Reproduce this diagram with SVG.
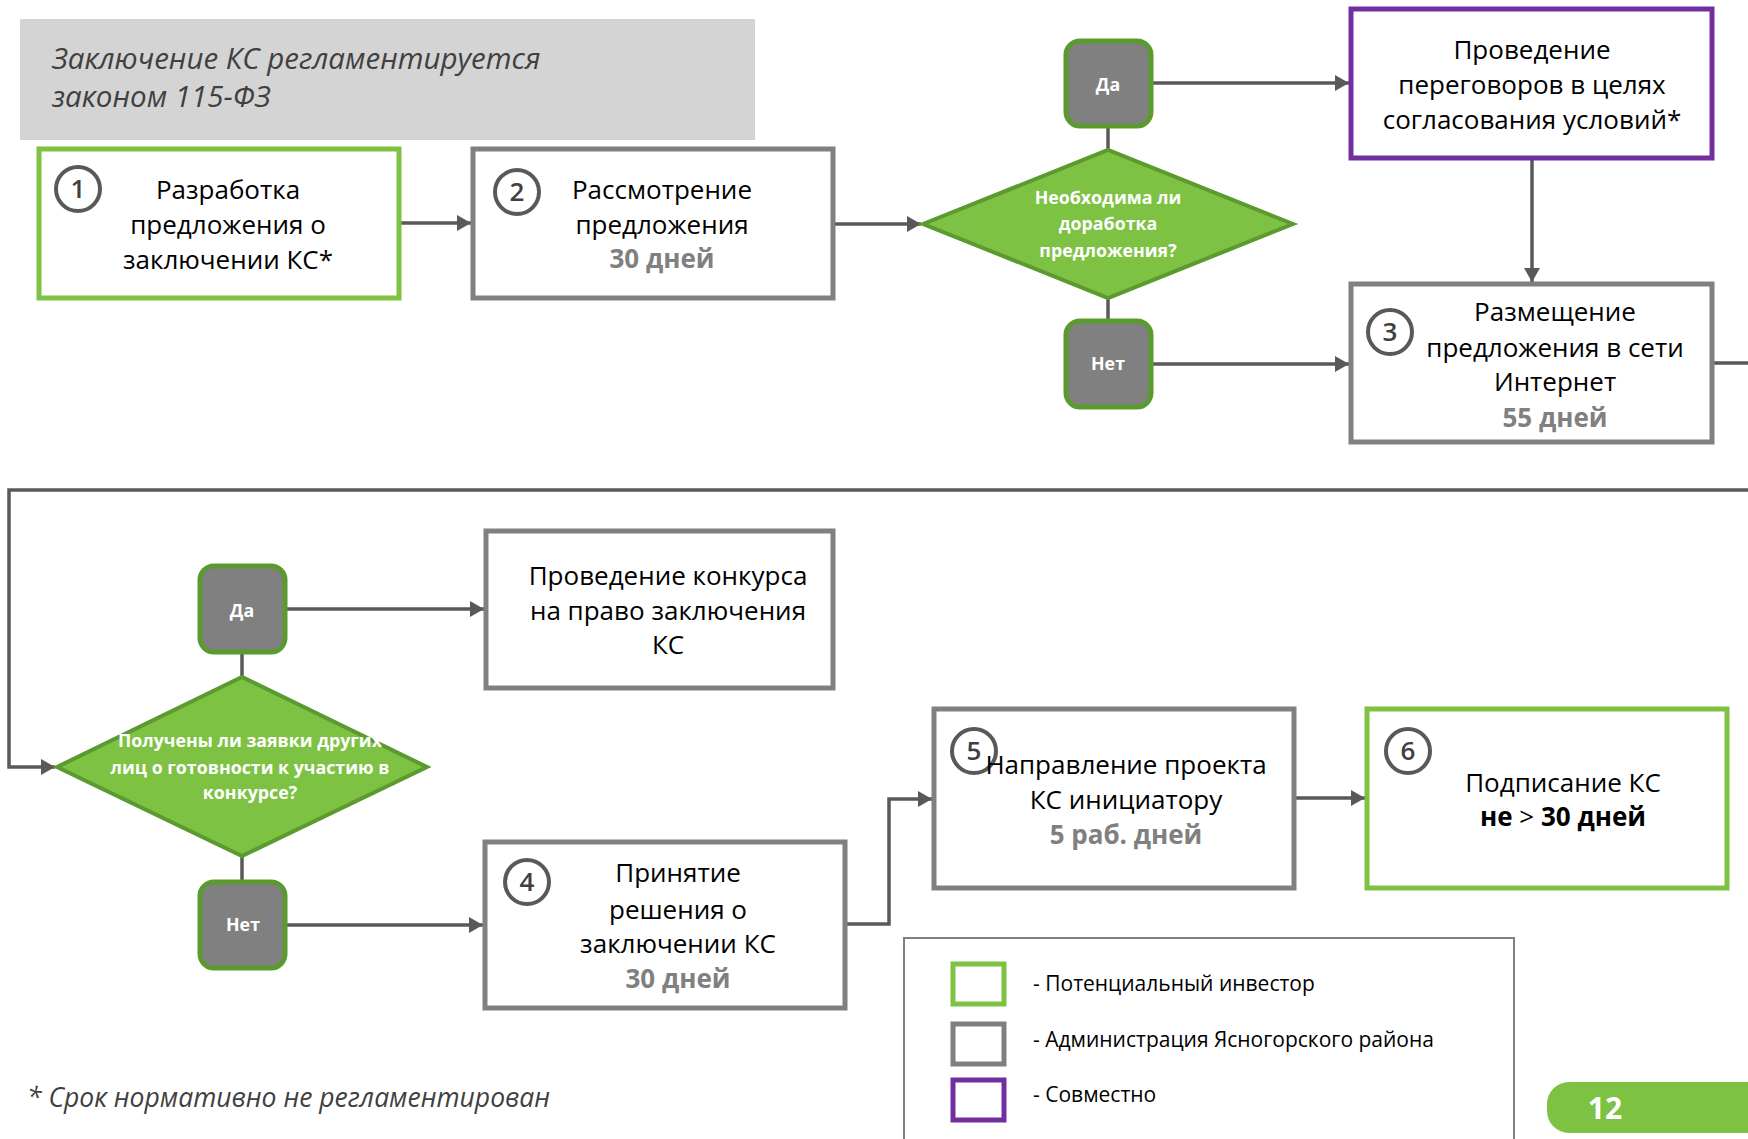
<svg xmlns="http://www.w3.org/2000/svg" width="1748" height="1139" viewBox="0 0 1748 1139">
<style>
text{font-family:"Open Sans","Noto Sans","DejaVu Sans",sans-serif}
.box{fill:#fff;stroke-width:5}
.g{stroke:#7DC242}
.a{stroke:#808080}
.p{stroke:#7030A0}
.t{font-size:26px;fill:#000;text-anchor:middle}
.d{font-size:26px;fill:#808080;font-weight:bold;text-anchor:middle}
.dia{fill:#7DC242;stroke:#5B9A2F;stroke-width:4}
.dt{font-size:17.8px;fill:#fff;font-weight:bold;text-anchor:middle}
.yn{fill:#808080;stroke:#5B9A2F;stroke-width:5}
.num{fill:#fff;stroke:#595959;stroke-width:4}
.nt{font-size:26px;fill:#404040;font-weight:600;text-anchor:middle}
.con{fill:none;stroke:#595959;stroke-width:3.5}
.arr{marker-end:url(#ah)}
.lg{font-size:21px;fill:#000}
.it{font-style:italic;fill:#404040}
</style>
<defs>
<marker id="ah" viewBox="0 0 14 16" refX="14" refY="8" markerWidth="14" markerHeight="16" markerUnits="userSpaceOnUse" orient="auto">
<path d="M0,0 L14,8 L0,16 z" fill="#595959"/>
</marker>
</defs>

<g id="header">
<rect x="20" y="19" width="735" height="121" fill="#D4D4D4"/>
<text class="it" x="52" y="69" font-size="29.5">Заключение КС регламентируется</text>
<text class="it" x="52" y="107" font-size="29.5">законом 115-ФЗ</text>
</g>

<g id="connectors">
<path class="con arr" d="M399,223 H471"/>
<path class="con arr" d="M833,224 H921"/>
<path class="con" d="M1108,126 V150"/>
<path class="con" d="M1108,298 V321"/>
<path class="con arr" d="M1151,83 H1349"/>
<path class="con arr" d="M1151,364 H1349"/>
<path class="con arr" d="M1532,158 V282"/>
<path class="con" d="M1712,363 H1748"/>
<path class="con arr" d="M1748,490 H9 V767 H55"/>
<path class="con" d="M242,652 V677"/>
<path class="con" d="M242,856 V882"/>
<path class="con arr" d="M285,609 H484"/>
<path class="con arr" d="M285,925 H483"/>
<path class="con arr" d="M845,924 H889 V799 H932"/>
<path class="con arr" d="M1294,798 H1365"/>
</g>

<g id="n1">
<rect class="box g" x="39" y="149" width="360" height="149"/>
<circle class="num" cx="78" cy="189" r="22"/>
<text class="nt" x="78" y="198">1</text>
<text class="t" x="228" y="199">Разработка</text>
<text class="t" x="228" y="234">предложения о</text>
<text class="t" x="228" y="269">заключении КС*</text>
</g>

<g id="n2">
<rect class="box a" x="473" y="149" width="360" height="149"/>
<circle class="num" cx="517" cy="192" r="22"/>
<text class="nt" x="517" y="201">2</text>
<text class="t" x="662" y="199">Рассмотрение</text>
<text class="t" x="662" y="234">предложения</text>
<text class="d" x="662" y="268">30 дней</text>
</g>

<g id="d1">
<polygon class="dia" points="923,224 1108,150 1293,224 1108,298"/>
<text class="dt" x="1108" y="204">Необходима ли</text>
<text class="dt" x="1108" y="230">доработка</text>
<text class="dt" x="1108" y="257">предложения?</text>
</g>

<g id="yes1">
<rect class="yn" x="1066" y="41" width="85" height="85" rx="14"/>
<text class="dt" x="1108" y="91">Да</text>
</g>

<g id="no1">
<rect class="yn" x="1066" y="321" width="85" height="86" rx="14"/>
<text class="dt" x="1108" y="370">Нет</text>
</g>

<g id="np">
<rect class="box p" x="1351" y="9" width="361" height="149"/>
<text class="t" x="1532" y="59">Проведение</text>
<text class="t" x="1532" y="94">переговоров в целях</text>
<text class="t" x="1532" y="129">согласования условий*</text>
</g>

<g id="n3">
<rect class="box a" x="1351" y="284" width="361" height="158"/>
<circle class="num" cx="1390" cy="332" r="22"/>
<text class="nt" x="1390" y="341">3</text>
<text class="t" x="1555" y="321">Размещение</text>
<text class="t" x="1555" y="357">предложения в сети</text>
<text class="t" x="1555" y="391">Интернет</text>
<text class="d" x="1555" y="427">55 дней</text>
</g>

<g id="d2">
<polygon class="dia" points="57,767 242,677 427,767 242,856"/>
<text class="dt" x="250" y="747">Получены ли заявки других</text>
<text class="dt" x="250" y="774">лиц о готовности к участию в</text>
<text class="dt" x="250" y="799">конкурсе?</text>
</g>

<g id="yes2">
<rect class="yn" x="200" y="566" width="85" height="86" rx="14"/>
<text class="dt" x="242" y="617">Да</text>
</g>

<g id="no2">
<rect class="yn" x="200" y="882" width="85" height="86" rx="14"/>
<text class="dt" x="243" y="931">Нет</text>
</g>

<g id="nk">
<rect class="box a" x="486" y="531" width="347" height="157"/>
<text class="t" x="668" y="585">Проведение конкурса</text>
<text class="t" x="668" y="620">на право заключения</text>
<text class="t" x="668" y="654">КС</text>
</g>

<g id="n4">
<rect class="box a" x="485" y="842" width="360" height="166"/>
<circle class="num" cx="527" cy="882" r="22"/>
<text class="nt" x="527" y="891">4</text>
<text class="t" x="678" y="882">Принятие</text>
<text class="t" x="678" y="919">решения о</text>
<text class="t" x="678" y="953">заключении КС</text>
<text class="d" x="678" y="988">30 дней</text>
</g>

<g id="n5">
<rect class="box a" x="934" y="709" width="360" height="179"/>
<circle class="num" cx="974" cy="751" r="22"/>
<text class="nt" x="974" y="760">5</text>
<text class="t" x="1126" y="774">Направление проекта</text>
<text class="t" x="1126" y="809">КС инициатору</text>
<text class="d" x="1126" y="844">5 раб. дней</text>
</g>

<g id="n6">
<rect class="box g" x="1367" y="709" width="360" height="179"/>
<circle class="num" cx="1408" cy="751" r="22"/>
<text class="nt" x="1408" y="760">6</text>
<text class="t" x="1563" y="792">Подписание КС</text>
<text class="t" x="1563" y="826"><tspan font-weight="bold">не</tspan> &gt; <tspan font-weight="bold">30 дней</tspan></text>
</g>

<g id="legend">
<rect x="904" y="938" width="610" height="230" fill="none" stroke="#808080" stroke-width="2"/>
<rect class="box g" x="953" y="964" width="51" height="40"/>
<rect class="box a" x="953" y="1024" width="51" height="40"/>
<rect class="box p" x="953" y="1080" width="51" height="40"/>
<text class="lg" x="1033" y="991">- Потенциальный инвестор</text>
<text class="lg" x="1033" y="1047">- Администрация Ясногорского района</text>
<text class="lg" x="1033" y="1102">- Совместно</text>
</g>

<g id="footnote">
<text class="it" x="27" y="1107" font-size="26.5">* Срок нормативно не регламентирован</text>
</g>

<g id="page">
<rect x="1547" y="1082" width="240" height="51" rx="22" fill="#7DC242"/>
<text x="1605" y="1119" font-size="30" font-weight="bold" fill="#fff" text-anchor="middle">12</text>
</g>
</svg>
